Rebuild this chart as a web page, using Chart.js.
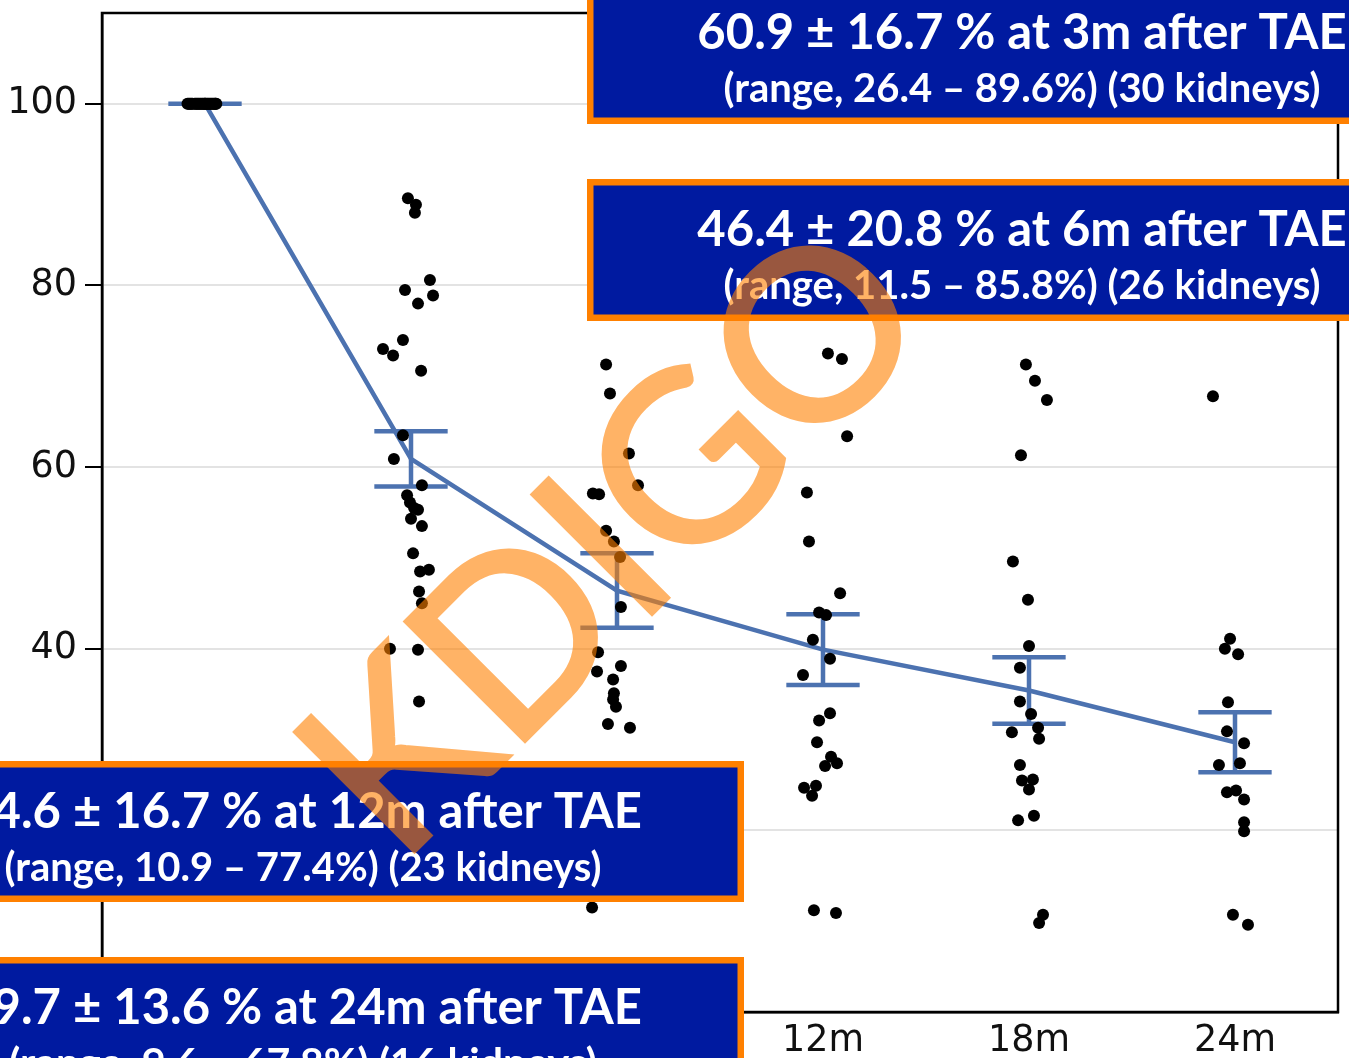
<!DOCTYPE html>
<html>
<head>
<meta charset="utf-8">
<script src="https://cdn.jsdelivr.net/npm/chart.js@4.4.1/dist/chart.umd.min.js"></script>
<style>
    html, body { margin: 0; padding: 0; background: #fff; }
</style>
</head>
<body>
<canvas id="tae" width="1349" height="1058"></canvas>
<script>
// Tijdpunten en y-as
const timeLabels = ["0m", "3m", "6m", "12m", "18m", "24m"];
const yTicks = [0, 20, 40, 60, 80, 100];

// Gemiddelde en standaardfout per tijdpunt
const meanValues = [100, 60.9, 46.4, 39.9, 35.4, 29.7];
const errorValues = [0, 3.05, 4.1, 3.9, 3.65, 3.3];

// Losse nieren per tijdpunt (waarde) en horizontale spreiding (in categorie-breedte)
const values0m = [100, 100, 100, 100, 100, 100, 100, 100, 100, 100, 100, 100, 100, 100, 100,
    100, 100, 100, 100, 100, 100, 100, 100, 100, 100, 100, 100, 100, 100, 100];
const jitter0m = [-0.085, -0.08, -0.075, -0.07, -0.065, -0.06, -0.05, -0.045, -0.04, -0.035,
    -0.03, -0.025, -0.02, -0.015, -0.01, -0.005, 0, 0.005, 0.01, 0.015, 0.02, 0.025, 0.03,
    0.035, 0.04, 0.045, 0.05, 0.055, 0, 0.05];

const values3m = [89.6, 88.9, 88.0, 80.6, 79.5, 78.9, 78.0, 74.0, 73.0, 72.3, 70.6, 63.5, 60.9,
    58.0, 56.9, 56.1, 55.5, 55.3, 54.3, 53.5, 50.5, 48.5, 48.7, 46.3, 45.0, 40.0, 39.9, 34.2, 26.4];
const jitter3m = [-0.015, 0.024, 0.019, 0.092, -0.029, 0.107, 0.034, -0.039, -0.136, -0.087,
    0.049, -0.039, -0.083, 0.053, -0.019, -0.005, 0.015, 0.034, 0, 0.053, 0.01, 0.044, 0.087,
    0.039, 0.053, -0.102, 0.034, 0.039, 0];

const values6m = [85.8, 71.3, 68.1, 61.5, 58.0, 57.1, 57.0, 53.0, 51.8, 50.1, 44.6, 39.6, 37.5,
    38.1, 36.6, 35.1, 34.4, 33.6, 31.7, 31.3, 11.5];
const jitter6m = [0, -0.053, -0.034, 0.058, 0.102, -0.117, -0.087, -0.053, -0.015, 0.015, 0.019,
    -0.092, -0.097, 0.019, -0.019, -0.015, -0.019, -0.005, -0.044, 0.063, -0.121];

const values12m = [77.4, 72.5, 71.9, 63.4, 57.2, 51.8, 46.1, 44.0, 43.7, 41.0, 38.9, 37.1, 32.9,
    32.1, 29.7, 28.1, 27.4, 27.1, 24.7, 24.9, 23.8, 11.2, 10.9];
const jitter12m = [0, 0.024, 0.092, 0.117, -0.078, -0.068, 0.083, -0.019, 0.015, -0.049, 0.034,
    -0.097, 0.034, -0.019, -0.029, 0.039, 0.068, 0.01, -0.092, -0.034, -0.053, -0.044, 0.063];

const values18m = [71.3, 69.5, 67.4, 61.3, 49.6, 45.4, 40.3, 37.9, 34.2, 32.8, 31.3, 30.8, 30.1,
    27.2, 25.5, 25.6, 24.5, 21.1, 21.6, 10.7, 9.8];
const jitter18m = [-0.015, 0.029, 0.087, -0.039, -0.078, -0.005, 0, -0.044, -0.044, 0.01, 0.044,
    -0.083, 0.049, -0.044, -0.034, 0.019, 0, -0.053, 0.024, 0.068, 0.049];

const values24m = [67.8, 41.1, 40.0, 39.4, 34.1, 30.9, 29.6, 27.4, 27.2, 24.2, 24.4, 23.4, 20.9,
    19.9, 10.7, 9.6];
const jitter24m = [-0.107, -0.024, -0.049, 0.015, -0.034, -0.039, 0.044, 0.024, -0.078, -0.039,
    0.005, 0.044, 0.044, 0.044, -0.01, 0.063];

const groupValues = [values0m, values3m, values6m, values12m, values18m, values24m];
const groupJitter = [jitter0m, jitter3m, jitter6m, jitter12m, jitter18m, jitter24m];

// Tekstblokken met samenvatting
const summaryBoxes = [
    { left: 587, top: -18, width: 870, height: 142,
      lines: ["60.9 \u00b1 16.7 % at 3m after TAE", "(range, 26.4 \u2013 89.6%) (30 kidneys)"] },
    { left: 587, top: 179, width: 870, height: 142,
      lines: ["46.4 \u00b1 20.8 % at 6m after TAE", "(range, 11.5 \u2013 85.8%) (26 kidneys)"] },
    { left: -138, top: 761, width: 882, height: 141,
      lines: ["34.6 \u00b1 16.7 % at 12m after TAE", "(range, 10.9 \u2013 77.4%) (23 kidneys)"] },
    { left: -138, top: 957, width: 882, height: 141,
      lines: ["29.7 \u00b1 13.6 % at 24m after TAE", "(range, 9.6 \u2013 67.8%) (16 kidneys)"] }
];

// Punten opbouwen
const dots = [];
groupValues.forEach((vals, i) => {
    vals.forEach((v, k) => dots.push({ x: i + groupJitter[i][k], y: v }));
});
const meanPoints = meanValues.map((m, i) => ({ x: i, y: m }));

const axisFont = { family: "DejaVu Sans", size: 36.5 };

// Foutbalken onder de punten
const errorBars = {
    id: "errorBars",
    beforeDatasetsDraw(chart) {
        const { ctx, scales: { x, y } } = chart;
        ctx.save();
        ctx.strokeStyle = "#4c72b0";
        ctx.lineWidth = 4.5;
        meanValues.forEach((m, i) => {
            const e = errorValues[i];
            const px = x.getPixelForValue(i);
            const left = x.getPixelForValue(i - 0.178);
            const right = x.getPixelForValue(i + 0.178);
            const top = y.getPixelForValue(m + e);
            const bottom = y.getPixelForValue(m - e);
            ctx.beginPath();
            ctx.moveTo(px, top);
            ctx.lineTo(px, bottom);
            ctx.moveTo(left, top);
            ctx.lineTo(right, top);
            ctx.moveTo(left, bottom);
            ctx.lineTo(right, bottom);
            ctx.stroke();
        });
        ctx.restore();
    }
};

// Watermerk apart tekenen zodat vulling en rand samen één laag vormen
function drawWatermark(ctx) {
    const layer = document.createElement("canvas");
    layer.width = ctx.canvas.width;
    layer.height = ctx.canvas.height;
    const w = layer.getContext("2d");
    w.translate(669, 597);
    w.rotate(-45 * Math.PI / 180);
    w.font = "236px Lato";
    w.textAlign = "center";
    w.textBaseline = "alphabetic";
    w.fillStyle = "#ff8000";
    w.strokeStyle = "#ff8000";
    w.lineWidth = 4;
    w.lineJoin = "miter";
    w.fillText("KDIGO", 0, 0);
    w.strokeText("KDIGO", 0, 0);
    ctx.save();
    ctx.globalAlpha = 0.6;
    ctx.drawImage(layer, 0, 0);
    ctx.restore();
}

// Kader rond het plotgebied, tekstblokken en watermerk
const overlay = {
    id: "overlay",
    afterDatasetsDraw(chart) {
        const { ctx, chartArea: a } = chart;
        ctx.save();
        ctx.strokeStyle = "#000";
        ctx.lineWidth = 2.5;
        ctx.strokeRect(a.left, a.top, a.right - a.left, a.bottom - a.top);
        ctx.restore();
    },
    afterDraw(chart) {
        const ctx = chart.ctx;
        ctx.save();
        summaryBoxes.forEach((b) => {
            ctx.fillStyle = "#ff8000";
            ctx.fillRect(b.left, b.top, b.width, b.height);
            ctx.fillStyle = "#001aa0";
            ctx.fillRect(b.left + 6.5, b.top + 6.5, b.width - 13, b.height - 13);
            const cx = b.left + b.width / 2;
            ctx.fillStyle = "#fff";
            ctx.textAlign = "center";
            ctx.textBaseline = "alphabetic";
            ctx.font = "bold 49px Lato";
            ctx.fillText(b.lines[0], cx, b.top + 67);
            ctx.font = "bold 41px Lato";
            ctx.fillText(b.lines[1], cx, b.top + 120, 597);
        });
        ctx.restore();
        drawWatermark(ctx);
    }
};

new Chart(document.getElementById("tae"), {
    type: "scatter",
    data: {
        datasets: [
            {
                type: "scatter",
                label: "nieren",
                data: dots,
                pointRadius: 6,
                pointBackgroundColor: "#000",
                pointBorderWidth: 0,
                order: 0
            },
            {
                type: "line",
                label: "gemiddelde",
                data: meanPoints,
                borderColor: "#4c72b0",
                borderWidth: 4.5,
                pointRadius: 0,
                fill: false,
                order: 1
            }
        ]
    },
    options: {
        responsive: false,
        devicePixelRatio: 1,
        animation: false,
        layout: { padding: { top: 13, right: 11, left: 0, bottom: 0 } },
        plugins: { legend: { display: false }, tooltip: { enabled: false } },
        scales: {
            x: {
                type: "linear",
                min: -0.5,
                max: 5.5,
                afterBuildTicks: (s) => { s.ticks = timeLabels.map((_, i) => ({ value: i })); },
                afterFit: (s) => {
                    s.height = 46;
                    s.paddingLeft = 0;
                    s.paddingRight = 0;
                },
                ticks: {
                    callback: (v) => timeLabels[v],
                    font: axisFont,
                    color: "#111",
                    padding: 8,
                    maxRotation: 0,
                    autoSkip: false
                },
                grid: { display: false, drawTicks: false },
                border: { display: true, color: "#000", width: 2.5 }
            },
            y: {
                min: 0,
                max: 110,
                afterBuildTicks: (s) => { s.ticks = yTicks.map((v) => ({ value: v })); },
                afterFit: (s) => {
                    s.width = 102;
                    s.paddingTop = 0;
                    s.paddingBottom = 0;
                },
                ticks: { font: axisFont, color: "#111", padding: 8 },
                grid: {
                    color: "#e3e3e3",
                    lineWidth: 2,
                    tickColor: "#000",
                    tickLength: 17,
                    tickWidth: 2
                },
                border: { display: true, color: "#000", width: 2.5 }
            }
        }
    },
    plugins: [errorBars, overlay]
});
</script>
</body>
</html>
